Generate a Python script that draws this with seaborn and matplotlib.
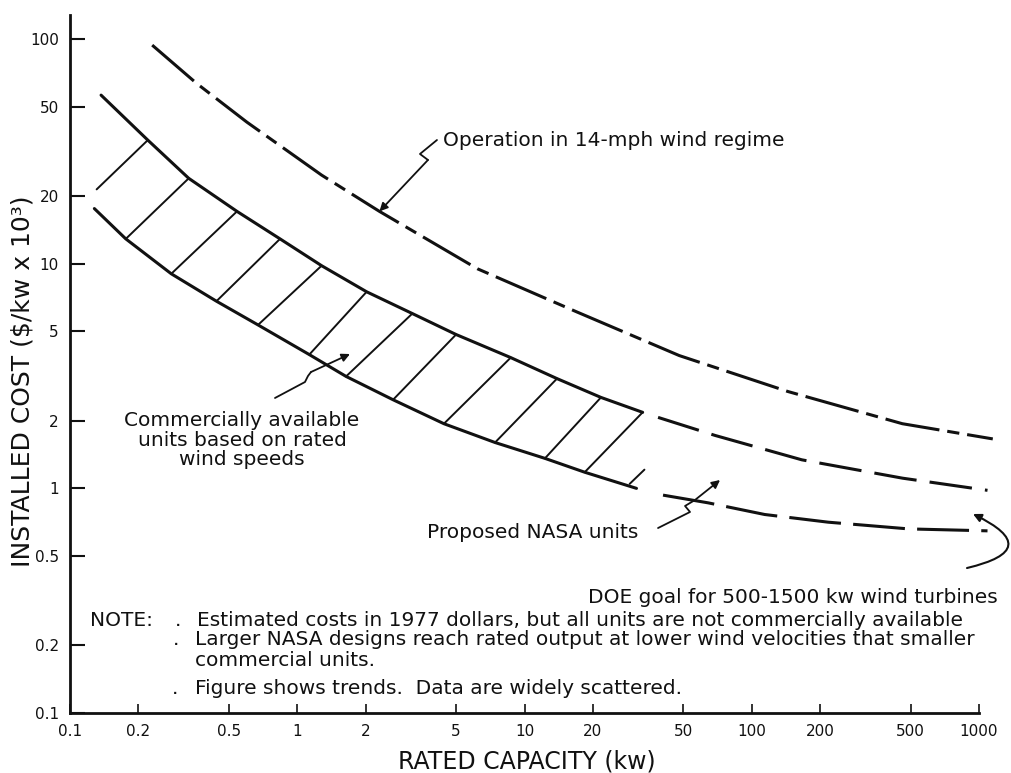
import numpy as np
import pandas as pd
import matplotlib
matplotlib.use("Agg")
import matplotlib.pyplot as plt
from matplotlib.ticker import NullLocator
import seaborn as sns

# ---- data (rated capacity in kW, installed cost in $/kW x 10^3) ----
wind14_kw = [0.23, 0.36, 0.60, 1.28, 2.3, 6.2, 17, 48, 144, 460, 1150]
wind14_cost = [94, 63.6, 42.7, 24.8, 17.1, 9.5, 6.1, 3.9, 2.7, 1.94, 1.66]

band_top_kw = [0.137, 0.22, 0.333, 0.543, 0.84, 1.28, 2.02, 3.21, 5.0, 8.7, 13.9, 21.7, 33.1]
band_top_cost = [56.3, 35.5, 24.0, 17.1, 12.9, 9.8, 7.5, 6.0, 4.84, 3.82, 3.08, 2.54, 2.18]

band_low_kw = [0.128, 0.176, 0.279, 0.441, 0.672, 1.13, 1.64, 2.64, 4.42, 7.42, 12.3, 18.4, 31.1]
band_low_cost = [17.6, 12.9, 9.02, 6.81, 5.34, 3.94, 3.15, 2.48, 1.94, 1.60, 1.36, 1.18, 1.0]

upper_ext_kw = [38.7, 69, 166, 461, 1090]
upper_ext_cost = [2.07, 1.72, 1.34, 1.11, 0.98]

nasa_kw = [40.7, 64.3, 114, 217, 490, 1090]
nasa_cost = [0.933, 0.862, 0.765, 0.707, 0.660, 0.647]

x_ticks = [0.1, 0.2, 0.5, 1, 2, 5, 10, 20, 50, 100, 200, 500, 1000]
x_tick_labels = ["0.1", "0.2", "0.5", "1", "2", "5", "10", "20", "50", "100", "200", "500", "1000"]
y_ticks = [0.1, 0.2, 0.5, 1, 2, 5, 10, 20, 50, 100]
y_tick_labels = ["0.1", "0.2", "0.5", "1", "2", "5", "10", "20", "50", "100"]

sns.set_theme(style="ticks")
plt.rcParams["font.family"] = ["DejaVu Sans"]
plt.rcParams["text.color"] = "black"

fig = plt.figure(figsize=(10.12, 7.73), dpi=100)
ax = fig.add_axes([70 / 1012, 60 / 773, 909 / 1012, 698 / 773])
ax.set_xscale("log")
ax.set_yscale("log")
ax.set_xlim(0.1, 1000)
ax.set_ylim(0.1, 128)

ink = "#111111"
lw = 2.2


def curve(xs, ys, style="-", width=lw):
    df = pd.DataFrame({"kw": xs, "cost": ys})
    sns.lineplot(data=df, x="kw", y="cost", ax=ax, sort=False, estimator=None,
                 color=ink, linewidth=width, linestyle=style, clip_on=False)


# 14-mph regime (long-short dash)
curve(wind14_kw, wind14_cost, style=(0, (18, 2.6, 4, 2.6)))
# commercial band boundaries
curve(band_top_kw, band_top_cost)
curve(band_low_kw, band_low_cost)
# extension of the upper band edge and the proposed NASA units
curve(upper_ext_kw, upper_ext_cost, style=(0, (14, 4.3)))
curve(nasa_kw, nasa_cost, style=(0, (17, 4)))

# diagonal hatching between the band edges: each stroke joins a point on the
# lower edge to the next point on the upper edge
hatch_lw = 1.4
lx, ly = np.log10(band_low_kw), np.log10(band_low_cost)
tx, ty = np.log10(band_top_kw), np.log10(band_top_cost)
for i in range(1, len(lx) - 1):
    ax.plot(10 ** np.array([lx[i], tx[i + 1]]), 10 ** np.array([ly[i], ty[i + 1]]),
            color=ink, lw=hatch_lw)
slope = (ty[2] - ly[1]) / (tx[2] - lx[1])
x0 = lx[0] + 0.01
ax.plot(10 ** np.array([x0, tx[1]]), 10 ** np.array([ty[1] - slope * (tx[1] - x0), ty[1]]),
        color=ink, lw=hatch_lw)
ax.plot(10 ** np.array([lx[-1] - 0.03, lx[-1] + 0.035]),
        10 ** np.array([ly[-1] + 0.02, ly[-1] + 0.02 + slope * 0.065]),
        color=ink, lw=hatch_lw)

# axes styling
for side in ["top", "right"]:
    ax.spines[side].set_visible(False)
for side in ["left", "bottom"]:
    ax.spines[side].set_linewidth(2.0)
    ax.spines[side].set_color(ink)
ax.set_xticks(x_ticks, x_tick_labels)
ax.set_yticks(y_ticks, y_tick_labels)
ax.xaxis.set_minor_locator(NullLocator())
ax.yaxis.set_minor_locator(NullLocator())
ax.tick_params(axis="y", direction="in", length=11, width=1.5, pad=8, labelsize=11, colors=ink)
ax.tick_params(axis="x", direction="in", length=6.5, width=1.2, pad=8, labelsize=11, colors=ink)
ax.grid(False)

ax.set_ylabel("INSTALLED COST ($/kw x 10³)", fontsize=18, va="center", ha="center", color=ink)
ax.yaxis.set_label_coords(-0.052, 0.476)
ax.set_xlabel("RATED CAPACITY (kw)", fontsize=17, va="center", ha="center", color=ink)
ax.xaxis.set_label_coords(0.503, -0.070)

fs = 14.5
tr = ax.transAxes
txt = dict(transform=tr, fontsize=fs, color=ink)

# 14-mph label with zigzag leader
ax.text(0.4103, 0.8209, "Operation in 14-mph wind regime", va="center", **txt)
ax.plot([0.4037, 0.3850, 0.3938], [0.8209, 0.8009, 0.7923], transform=tr, color=ink, lw=1.3)
ax.annotate("", xy=(2.3, 17.1), xycoords="data", xytext=(0.3938, 0.7923), textcoords="axes fraction",
            arrowprops=dict(arrowstyle="-|>", color=ink, lw=1.3, mutation_scale=12, shrinkA=0, shrinkB=0))

# commercial units label
ax.text(0.1892, 0.3911, "Commercially available\nunits based on rated\nwind speeds",
        ha="center", va="center", linespacing=1.05, **txt)
ax.plot([0.2255, 0.2585, 0.2618, 0.2651], [0.4513, 0.4742, 0.4828, 0.4885], transform=tr, color=ink, lw=1.3)
ax.annotate("", xy=(0.308, 0.5143), xycoords="axes fraction", xytext=(0.2651, 0.4885), textcoords="axes fraction",
            arrowprops=dict(arrowstyle="-|>", color=ink, lw=1.3, mutation_scale=12, shrinkA=0, shrinkB=0))

# NASA label
ax.text(0.3927, 0.2593, "Proposed NASA units", va="center", **txt)
ax.plot([0.6469, 0.6821, 0.6766, 0.6876], [0.2650, 0.2880, 0.2966, 0.3052], transform=tr, color=ink, lw=1.3)
ax.annotate("", xy=(0.7151, 0.3338), xycoords="axes fraction", xytext=(0.6876, 0.3052), textcoords="axes fraction",
            arrowprops=dict(arrowstyle="-|>", color=ink, lw=1.3, mutation_scale=12, shrinkA=0, shrinkB=0))

# DOE goal label with hooked arrow
ax.text(0.5699, 0.1648, "DOE goal for 500-1500 kw wind turbines", va="center", **txt)
ax.annotate("", xy=(0.9934, 0.2851), xycoords="axes fraction", xytext=(0.9868, 0.2077),
            textcoords="axes fraction", annotation_clip=False,
            arrowprops=dict(arrowstyle="-|>", color=ink, lw=1.5, mutation_scale=12, shrinkA=0, shrinkB=0,
                            connectionstyle="arc3,rad=1.4"))

# notes
ax.text(0.022, 0.133, "NOTE:", va="center", **txt)
ax.text(0.1155, 0.133, ".", va="center", **txt)
ax.text(0.1397, 0.133, "Estimated costs in 1977 dollars, but all units are not commercially available",
        va="center", **txt)
ax.text(0.113, 0.1046, ".", va="center", **txt)
ax.text(0.1375, 0.1046, "Larger NASA designs reach rated output at lower wind velocities that smaller",
        va="center", **txt)
ax.text(0.1375, 0.0759, "commercial units.", va="center", **txt)
ax.text(0.112, 0.0358, ".", va="center", **txt)
ax.text(0.1375, 0.0358, "Figure shows trends.  Data are widely scattered.", va="center", **txt)

fig.savefig("out.png", dpi=100, facecolor="white")
